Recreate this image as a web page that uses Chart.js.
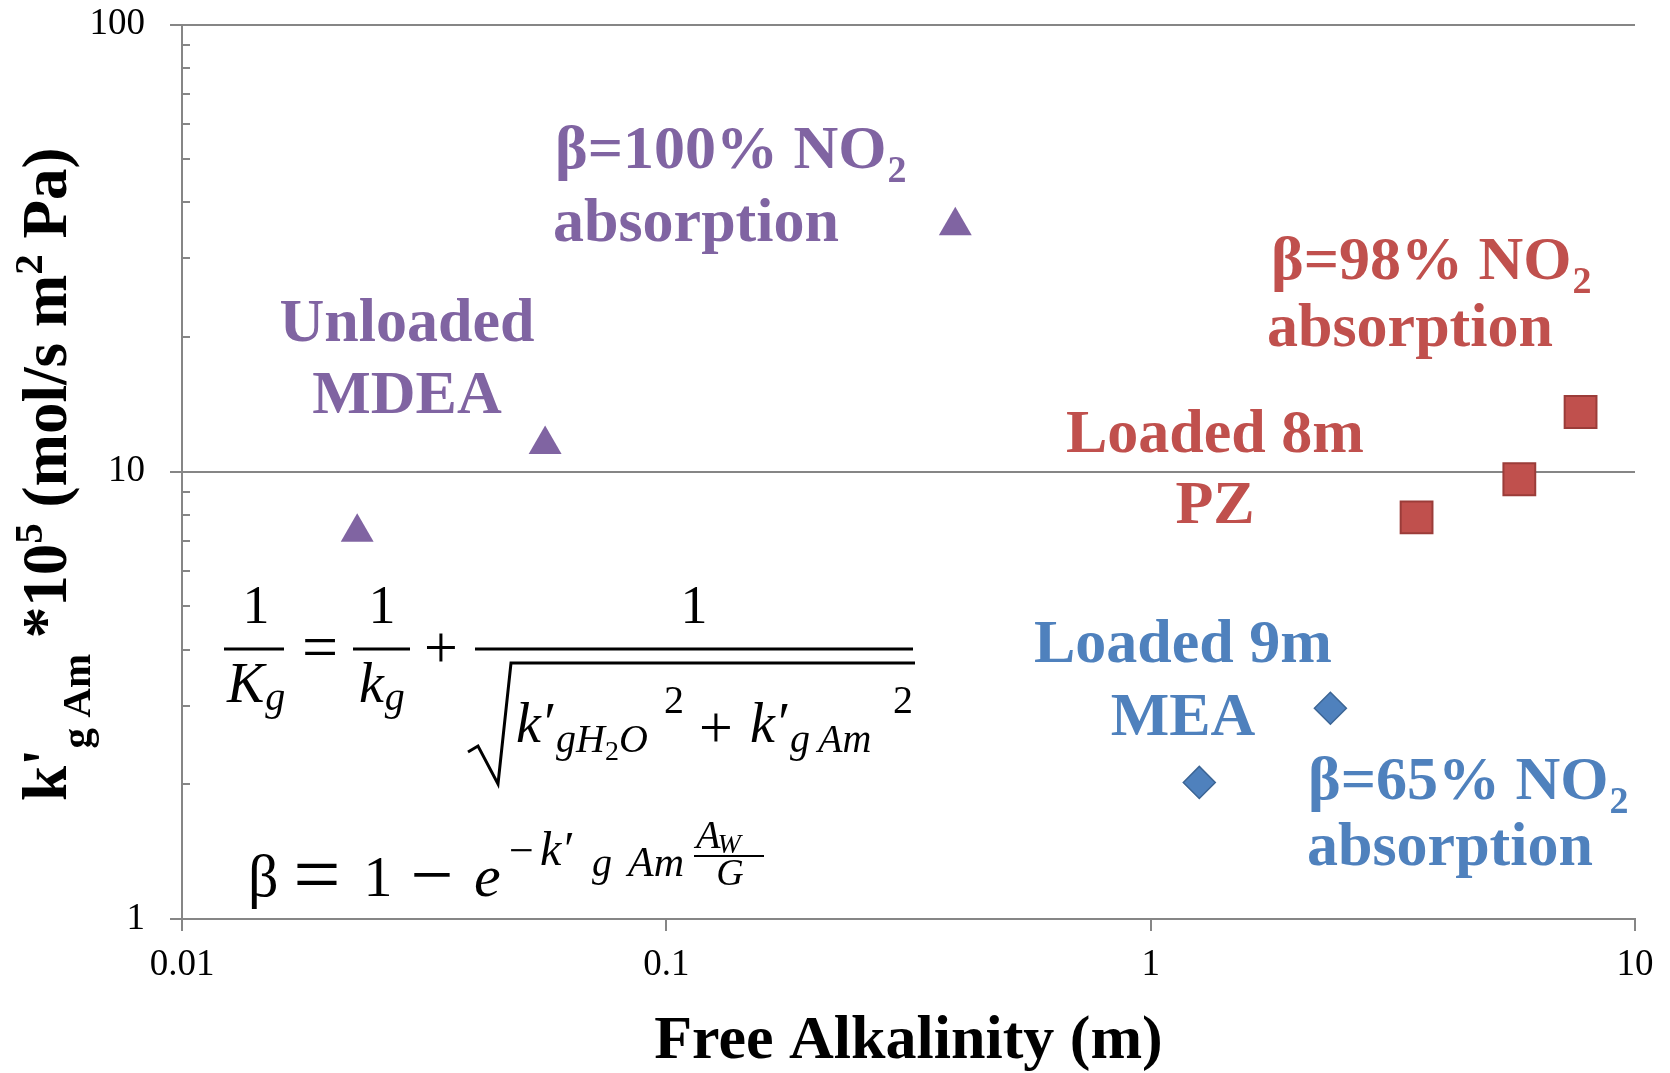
<!DOCTYPE html>
<html>
<head>
<meta charset="utf-8">
<script src="https://cdn.jsdelivr.net/npm/chart.js@4.4.0/dist/chart.umd.min.js"></script>
<style>
  html, body { margin: 0; padding: 0; background: #fff; }
  #wrap { width: 1670px; height: 1073px; }
</style>
</head>
<body>
<div id="wrap"><canvas id="kgChart" width="1670" height="1073"></canvas></div>
<script>
// Unloaded MDEA (purple triangles)
const mdeaAlk = [0.0230, 0.0562, 0.395];
const mdeaKg = [7.32, 11.5, 35.5];
// Loaded 8 m PZ (red squares)
const pzAlk = [3.54, 5.77, 7.72];
const pzKg = [7.91, 9.62, 13.6];
// Loaded 9 m MEA (blue diamonds)
const meaAlk = [1.26, 2.35];
const meaKg = [2.02, 2.96];

const xTicks = [0.01, 0.1, 1, 10];
const yTicks = [1, 10, 100];
const yMinor = [2, 3, 4, 5, 6, 7, 8, 9, 20, 30, 40, 50, 60, 70, 80, 90];

const GRAY = '#868686';
const PURPLE = '#8064A2';
const RED = '#C0504D';
const BLUE = '#4F81BD';
const SERIF = '"Liberation Serif", "Times New Roman", serif';

function pts(xs, ys) {
    return xs.map((x, i) => ({ x: x, y: ys[i] }));
}

function put(ctx, s, x, y, size, style, align) {
    ctx.font = (style || '') + ' ' + size + 'px ' + SERIF;
    ctx.textAlign = align || 'left';
    ctx.fillText(s, x, y);
    return x + ctx.measureText(s).width;
}

function hline(ctx, x1, x2, y) {
    ctx.beginPath();
    ctx.moveTo(x1, y);
    ctx.lineTo(x2, y);
    ctx.stroke();
}

// coloured bold labels, NO2 subscript handled with a trailing run
function label(ctx, color, text, sub, x, y, align) {
    ctx.save();
    ctx.fillStyle = color;
    ctx.textBaseline = 'alphabetic';
    ctx.font = 'bold 62px ' + SERIF;
    let w = ctx.measureText(text).width;
    let ws = 0;
    if (sub) {
        ctx.font = 'bold 38px ' + SERIF;
        ws = ctx.measureText(sub).width;
    }
    let x0 = align === 'center' ? x - (w + ws) / 2 : x;
    let end = put(ctx, text, x0, y, 62, 'bold');
    if (sub) put(ctx, sub, end + 1, y + 14, 38, 'bold');
    ctx.restore();
}

const decorPlugin = {
    id: 'decor',
    afterDraw(chart) {
        const ctx = chart.ctx;
        const ys = chart.scales.y;
        const area = chart.chartArea;

        // minor ticks on the value axis, pointing inwards
        ctx.save();
        ctx.strokeStyle = GRAY;
        ctx.lineWidth = 2;
        yMinor.forEach(v => {
            const py = Math.round(ys.getPixelForValue(v));
            hline(ctx, area.left, area.left + 8, py);
        });
        ctx.restore();

        // y axis title with sub/superscripts
        ctx.save();
        ctx.fillStyle = '#000';
        ctx.textBaseline = 'alphabetic';
        ctx.translate(66, 801);
        ctx.rotate(-Math.PI / 2);
        const runs = [["k'", 63, 0], ['g Am', 41, 24], [' *10', 63, 0], ['5', 41, -24],
                      [' (mol/s m', 63, 0], ['2', 41, -24], [' Pa)', 63, 0]];
        let tx = 0;
        runs.forEach(r => { tx = put(ctx, r[0], tx, r[2], r[1], 'bold'); });
        ctx.restore();

        // annotations
        label(ctx, PURPLE, '\u03B2=100% NO', '2', 555, 168);
        label(ctx, PURPLE, 'absorption', null, 553, 241);
        label(ctx, PURPLE, 'Unloaded', null, 407, 341, 'center');
        label(ctx, PURPLE, 'MDEA', null, 407, 413, 'center');

        label(ctx, RED, '\u03B2=98% NO', '2', 1271, 279);
        label(ctx, RED, 'absorption', null, 1267, 346);
        label(ctx, RED, 'Loaded 8m', null, 1215, 452, 'center');
        label(ctx, RED, 'PZ', null, 1215, 523, 'center');

        label(ctx, BLUE, 'Loaded 9m', null, 1183, 662, 'center');
        label(ctx, BLUE, 'MEA', null, 1183, 735, 'center');
        label(ctx, BLUE, '\u03B2=65% NO', '2', 1308, 799);
        label(ctx, BLUE, 'absorption', null, 1307, 865);

        // equations
        ctx.save();
        ctx.fillStyle = '#000';
        ctx.strokeStyle = '#000';
        ctx.lineWidth = 3;
        ctx.textBaseline = 'alphabetic';
        // 1/Kg
        put(ctx, '1', 256, 623, 54, '', 'center');
        hline(ctx, 224, 284, 649);
        let e = put(ctx, 'K', 227, 702, 56, 'italic');
        put(ctx, 'g', e + 1, 710, 40, 'italic');
        put(ctx, '=', 320, 668, 64, '', 'center');
        // 1/kg
        put(ctx, '1', 382, 623, 54, '', 'center');
        hline(ctx, 353, 410, 649);
        e = put(ctx, 'k', 359, 702, 56, 'italic');
        put(ctx, 'g', e + 1, 710, 40, 'italic');
        put(ctx, '+', 441, 667, 60, '', 'center');
        // 1/sqrt(...)
        put(ctx, '1', 694, 623, 54, '', 'center');
        hline(ctx, 475, 913, 649);
        ctx.beginPath();
        ctx.moveTo(468, 752);
        ctx.lineTo(478, 746);
        ctx.lineTo(498, 784);
        ctx.lineTo(511, 663);
        ctx.lineTo(915, 663);
        ctx.stroke();
        e = put(ctx, 'k\u2032', 516, 742, 56, 'italic');
        e = put(ctx, 'g', 556, 752, 40, 'italic');
        e = put(ctx, 'H', e, 752, 40, 'italic');
        e = put(ctx, '2', e, 760, 28, '');
        put(ctx, 'O', e, 752, 40, 'italic');
        put(ctx, '2', 664, 713, 40, '');
        put(ctx, '+', 716, 747, 60, '', 'center');
        put(ctx, 'k\u2032', 750, 742, 56, 'italic');
        put(ctx, 'g', 790, 752, 40, 'italic');
        put(ctx, 'Am', 818, 752, 40, 'italic');
        put(ctx, '2', 893, 713, 40, '');
        // beta = 1 - e^(...)
        put(ctx, '\u03B2', 248, 896, 60, '');
        put(ctx, '=', 317, 903, 84, '', 'center');
        put(ctx, '1', 378, 896, 58, '', 'center');
        put(ctx, '\u2212', 432, 900, 76, '', 'center');
        put(ctx, 'e', 474, 896, 60, 'italic');
        put(ctx, '\u2212', 509, 865, 44, '');
        put(ctx, 'k\u2032', 540, 865, 48, 'italic');
        put(ctx, 'g', 592, 876, 40, 'italic');
        put(ctx, 'Am', 628, 876, 42, 'italic');
        e = put(ctx, 'A', 696, 848, 40, 'italic');
        put(ctx, 'W', e - 3, 853, 28, 'italic');
        ctx.lineWidth = 2;
        hline(ctx, 694, 764, 856);
        put(ctx, 'G', 730, 885, 38, 'italic', 'center');
        ctx.restore();
    }
};

new Chart(document.getElementById('kgChart').getContext('2d'), {
    type: 'scatter',
    data: {
        datasets: [
            {
                label: 'Unloaded MDEA',
                data: pts(mdeaAlk, mdeaKg),
                pointStyle: 'triangle',
                pointRadius: 19,
                backgroundColor: PURPLE,
                borderColor: PURPLE,
                borderWidth: 0
            },
            {
                label: 'Loaded 8m PZ',
                data: pts(pzAlk, pzKg),
                pointStyle: 'rect',
                pointRadius: 22.5,
                backgroundColor: RED,
                borderColor: '#9B3C39',
                borderWidth: 2
            },
            {
                label: 'Loaded 9m MEA',
                data: pts(meaAlk, meaKg),
                pointStyle: 'rectRot',
                pointRadius: 16,
                backgroundColor: BLUE,
                borderColor: '#3C6595',
                borderWidth: 1.5
            }
        ]
    },
    options: {
        responsive: false,
        animation: false,
        devicePixelRatio: 1,
        layout: { padding: { top: 24, right: 35, left: 0, bottom: 0 } },
        plugins: {
            legend: { display: false },
            tooltip: { enabled: false }
        },
        scales: {
            x: {
                type: 'logarithmic',
                min: 0.01,
                max: 10,
                afterBuildTicks: s => { s.ticks = xTicks.map(v => ({ value: v, major: true })); },
                afterFit: s => { s.height = 154; },
                grid: { drawOnChartArea: false, drawTicks: true, tickLength: 12, color: GRAY, lineWidth: 2 },
                border: { color: GRAY, width: 2 },
                ticks: {
                    font: { family: SERIF, size: 37 },
                    color: '#000',
                    padding: 12,
                    maxRotation: 0,
                    autoSkip: false,
                    callback: v => String(v)
                },
                title: {
                    display: true,
                    text: 'Free Alkalinity (m)',
                    font: { family: SERIF, size: 62, weight: 'bold', lineHeight: 1.0 },
                    color: '#000',
                    padding: { top: 0, bottom: 0 }
                }
            },
            y: {
                type: 'logarithmic',
                min: 1,
                max: 100,
                afterBuildTicks: s => { s.ticks = yTicks.map(v => ({ value: v, major: true })); },
                afterFit: s => {
                    s.width = 182;
                    s.paddingTop = 0;
                    s.paddingBottom = 0;
                },
                grid: { drawTicks: true, tickLength: 12, color: GRAY, lineWidth: 2 },
                border: { color: GRAY, width: 2 },
                ticks: {
                    font: { family: SERIF, size: 37 },
                    color: '#000',
                    padding: 25,
                    autoSkip: false,
                    callback: v => String(v)
                }
            }
        }
    },
    plugins: [decorPlugin]
});
</script>
</body>
</html>
